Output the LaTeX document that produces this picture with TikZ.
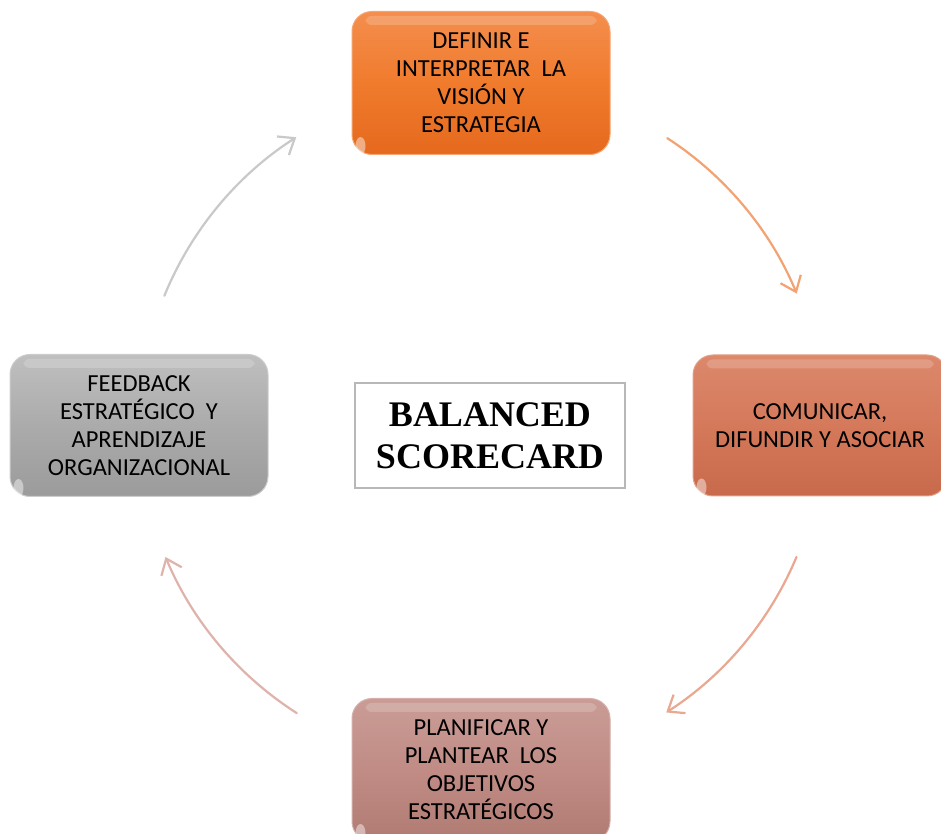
\documentclass[tikz,border=0pt]{standalone}
\usepackage{fontspec}
\setmainfont{Carlito}
\newfontfamily\titlefont{Liberation Serif}
\usetikzlibrary{arrows.meta}

\definecolor{orTop}{HTML}{F48E4E}
\definecolor{orMid}{HTML}{F07B2D}
\definecolor{orBot}{HTML}{E5691E}
\definecolor{tcTop}{HTML}{DC886B}
\definecolor{tcMid}{HTML}{D5795B}
\definecolor{tcBot}{HTML}{C8694B}
\definecolor{gyTop}{HTML}{BFBFBF}
\definecolor{gyMid}{HTML}{ABABAB}
\definecolor{gyBot}{HTML}{9B9B9B}
\definecolor{rsTop}{HTML}{CA9C96}
\definecolor{rsMid}{HTML}{C08C85}
\definecolor{rsBot}{HTML}{B07B73}
\definecolor{arOr}{HTML}{F3A272}
\definecolor{arTc}{HTML}{E9A88F}
\definecolor{arRs}{HTML}{DEB3AB}
\definecolor{arGy}{HTML}{C9C9C9}

\tikzset{
  stage/.style={rounded corners=20pt, minimum width=258pt, minimum height=143pt,
    align=center, font=\fontsize{24.5}{28}\selectfont, text=black, inner sep=0pt},
  cyclearrow/.style={line width=2.2pt, line cap=round,
    -{Straight Barb[length=14pt,width=22pt,line width=2.2pt]}},
  gloss/.style={fill=white, opacity=0.18, rounded corners=6pt},
}

\newcommand{\glossy}[1]{%
  \fill[gloss] ([xshift=14pt,yshift=-5pt]#1.north west) rectangle ([xshift=-14pt,yshift=-14pt]#1.north east);
  \fill[white, opacity=0.45] ([xshift=9pt,yshift=9pt]#1.south west) circle[x radius=5pt, y radius=9pt];
}

\begin{document}
\begin{tikzpicture}[x=1pt,y=1pt]
  \useasboundingbox (0,0) rectangle (941,834);
  \fill[white] (0,0) rectangle (941,834);

  % cycle centre
  \coordinate (c) at (481,409);

  % four stages
  \node[stage, top color=orTop, bottom color=orBot, middle color=orMid, draw=orTop!80!white, line width=1pt]
    (def) at (481,751) {DEFINIR E\\INTERPRETAR\ \ LA\\VISIÓN Y\\ESTRATEGIA};
  \node[stage, minimum width=254pt, minimum height=141pt, top color=tcTop, bottom color=tcBot, middle color=tcMid, draw=tcTop!80!white, line width=1pt]
    (com) at (820,408.5) {COMUNICAR,\\DIFUNDIR Y ASOCIAR};
  \node[stage, minimum height=142pt, top color=gyTop, bottom color=gyBot, middle color=gyMid, draw=gyTop!80!white, line width=1pt]
    (fee) at (139,408.5) {FEEDBACK\\ESTRATÉGICO\ \ Y\\APRENDIZAJE\\ORGANIZACIONAL};
  \node[stage, top color=rsTop, bottom color=rsBot, middle color=rsMid, draw=rsTop!80!white, line width=1pt]
    (pla) at (481,64) {PLANIFICAR Y\\PLANTEAR\ \ LOS\\OBJETIVOS\\ESTRATÉGICOS};

  \glossy{def}
  \glossy{com}
  \glossy{fee}
  \glossy{pla}

  % centre title
  \node[draw=black!28, line width=1.2pt, fill=white, minimum width=270pt, minimum height=105pt,
        align=center, font=\titlefont\bfseries\fontsize{36}{42}\selectfont, inner sep=0pt]
    (bsc) at (490,398.5) {BALANCED\\SCORECARD};

  % arrows around the cycle
  \draw[cyclearrow, arOr] ([shift={(57:342pt)}]c) arc[start angle=57, end angle=22.6, radius=342pt];
  \draw[cyclearrow, arTc] ([shift={(-22.7:342pt)}]c) arc[start angle=-22.7, end angle=-57.2, radius=342pt];
  \draw[cyclearrow, arRs] ([shift={(237.4:342pt)}]c) arc[start angle=237.4, end angle=202.7, radius=342pt];
  \draw[cyclearrow, arGy] ([shift={(157.8:342pt)}]c) arc[start angle=157.8, end angle=122.7, radius=342pt];
\end{tikzpicture}
\end{document}
